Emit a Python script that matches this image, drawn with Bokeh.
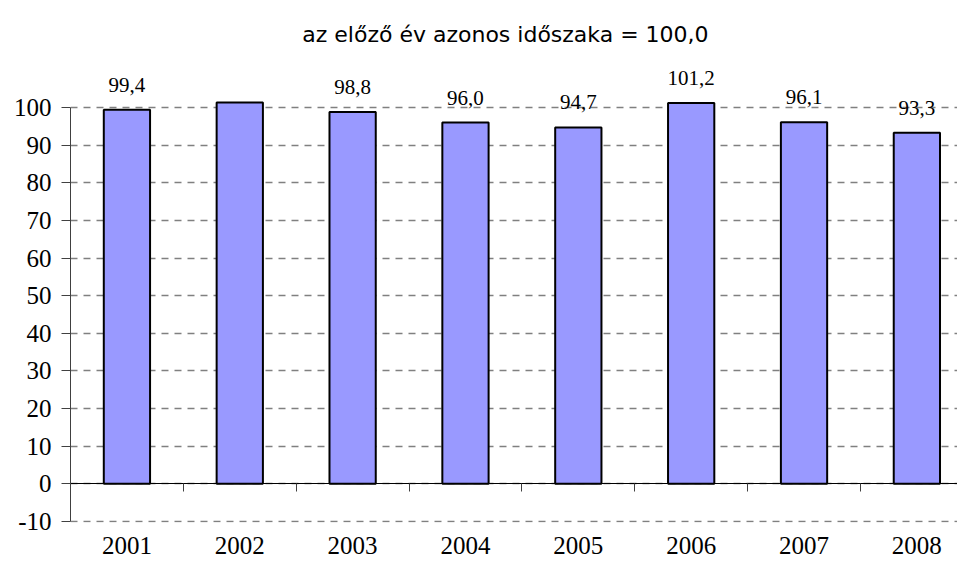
from bokeh.plotting import figure
from bokeh.models import ColumnDataSource, LabelSet, Label, LinearAxis, FixedTicker, Range1d
from bokeh.embed import file_html
from bokeh.resources import INLINE

# ---- data ----
years = ["2001", "2002", "2003", "2004", "2005", "2006", "2007", "2008"]
values = [99.4, 101.3, 98.8, 96.0, 94.7, 101.2, 96.1, 93.3]
value_labels = ["99,4", "", "98,8", "96,0", "94,7", "101,2", "96,1", "93,3"]
y_ticks = [-10, 0, 10, 20, 30, 40, 50, 60, 70, 80, 90, 100]
title_text = "az előző év azonos időszaka = 100,0"

xs = list(range(1, len(years) + 1))
source = ColumnDataSource(dict(x=xs, top=values, label=value_labels))

SERIF = "Liberation Serif"

p = figure(width=957, height=570, output_backend="svg", toolbar_location=None,
           x_range=Range1d(0.5, 8.36), y_range=Range1d(-10.29, 128.43),
           min_border_left=70, min_border_right=0, min_border_top=0,
           min_border_bottom=48)
p.outline_line_color = None
p.background_fill_color = "white"
p.border_fill_color = "white"

# grid
p.xgrid.visible = False
p.ygrid.ticker = FixedTicker(ticks=y_ticks)
p.ygrid.grid_line_color = "#808080"
p.ygrid.grid_line_dash = "7 6"
p.ygrid.grid_line_width = 1.5

# y axis
p.yaxis.ticker = FixedTicker(ticks=y_ticks)
p.yaxis.bounds = (y_ticks[0], y_ticks[-1])
p.yaxis.major_label_overrides = {t: str(t) for t in y_ticks}
p.yaxis.axis_line_color = "#404040"
p.yaxis.major_tick_line_color = "#404040"
p.yaxis.major_tick_out = 9
p.yaxis.major_tick_in = 0
p.yaxis.minor_tick_line_color = None
p.yaxis.major_label_standoff = 10
p.yaxis.major_label_text_font = SERIF
p.yaxis.major_label_text_font_size = "25px"
p.yaxis.major_label_text_color = "black"

# bottom axis (year labels only)
p.xaxis.ticker = FixedTicker(ticks=xs)
p.xaxis.major_label_overrides = {x: y for x, y in zip(xs, years)}
p.xaxis.axis_line_color = None
p.xaxis.major_tick_line_color = None
p.xaxis.minor_tick_line_color = None
p.xaxis.major_tick_out = 0
p.xaxis.major_tick_in = 0
p.xaxis.major_label_standoff = 14
p.xaxis.major_label_text_font = SERIF
p.xaxis.major_label_text_font_size = "25px"
p.xaxis.major_label_text_color = "black"

# zero line axis with category separators
bounds_ticks = [x + 0.5 for x in xs[:-1]]
zero_axis = LinearAxis(fixed_location=0, ticker=FixedTicker(ticks=bounds_ticks))
zero_axis.axis_line_color = "black"
zero_axis.axis_line_width = 1
zero_axis.major_tick_line_color = "#404040"
zero_axis.major_tick_out = 8
zero_axis.major_tick_in = 0
zero_axis.minor_tick_line_color = None
zero_axis.major_label_text_alpha = 0
zero_axis.major_label_text_font_size = "1px"
p.add_layout(zero_axis, "below")

# bars
p.vbar(x="x", top="top", bottom=0, width=0.41, source=source,
       fill_color="#9999FF", line_color="black", line_width=2)

labels = LabelSet(x="x", y="top", text="label", source=source, y_offset=18,
                  text_align="center", text_baseline="alphabetic",
                  text_font=SERIF, text_font_size="21px", text_color="black")
p.add_layout(labels)

title = Label(x=4.354, y=119.4, text=title_text, text_align="center",
              text_baseline="alphabetic", text_font="DejaVu Sans",
              text_font_size="22px", text_color="black")
p.add_layout(title)

open("out.html", "w").write(file_html(p, INLINE))
